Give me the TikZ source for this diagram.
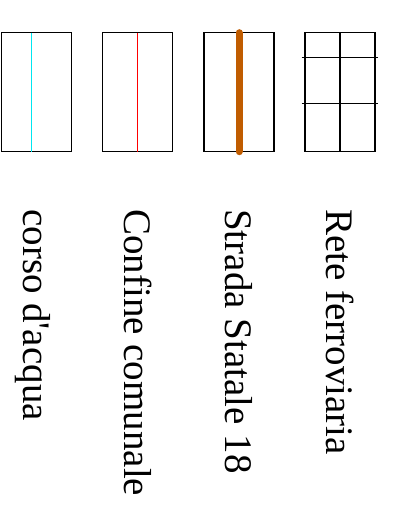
\documentclass[tikz,border=0pt]{standalone}
\usepackage{fontspec}
\setmainfont{Liberation Serif}
\newfontfamily\labelfont{Liberation Serif}
\definecolor{roadorange}{RGB}{192,92,0}
\definecolor{watercyan}{RGB}{0,230,240}
\begin{document}
\begin{tikzpicture}[x=1pt,y=-1pt,
  legbox/.style={draw=black,line width=1.1pt,minimum width=70pt,minimum height=119pt,inner sep=0pt,outer sep=0pt},
  legtext/.style={rotate=-90,anchor=base west,inner sep=0pt,font=\labelfont\fontsize{39}{41}\selectfont}]
\useasboundingbox (0,0) rectangle (401,513);
% boxes
\node[legbox] (b1) at (36.7,92.2) {};
\node[legbox] (b2) at (137.7,92.2) {};
\node[legbox] (b3) at (239,92.2) {};
\node[legbox] (b4) at (340,92.2) {};
% corso d'acqua
\draw[watercyan,line width=1.2pt] ([xshift=-5.2pt]b1.north) -- ([xshift=-5.2pt]b1.south);
% confine comunale
\draw[red,line width=1.5pt] ([xshift=-0.2pt]b2.north) -- ([xshift=-0.2pt]b2.south);
% strada statale
\draw[roadorange,line width=7pt,line cap=round] (b3.north) -- (b3.south);
% rete ferroviaria
\draw[black,line width=1.3pt] (b4.north) -- (b4.south);
\coordinate (g1l) at (301.7,57.7);
\coordinate (g1r) at (378.3,57.7);
\coordinate (g2l) at (301.7,103.3);
\coordinate (g2r) at (378.3,103.3);
\draw[black,line width=1.3pt] (g1l) -- (g1r);
\draw[black,line width=1.3pt] (g2l) -- (g2r);
% labels
\node[legtext] (t1) at (23,209) {corso d'acqua};
\node[legtext] (t2) at (124,209) {Confine comunale};
\node[legtext] (t3) at (225,209) {Strada Statale 18};
\node[legtext] (t4) at (326,209) {Rete ferroviaria};
\end{tikzpicture}
\end{document}
